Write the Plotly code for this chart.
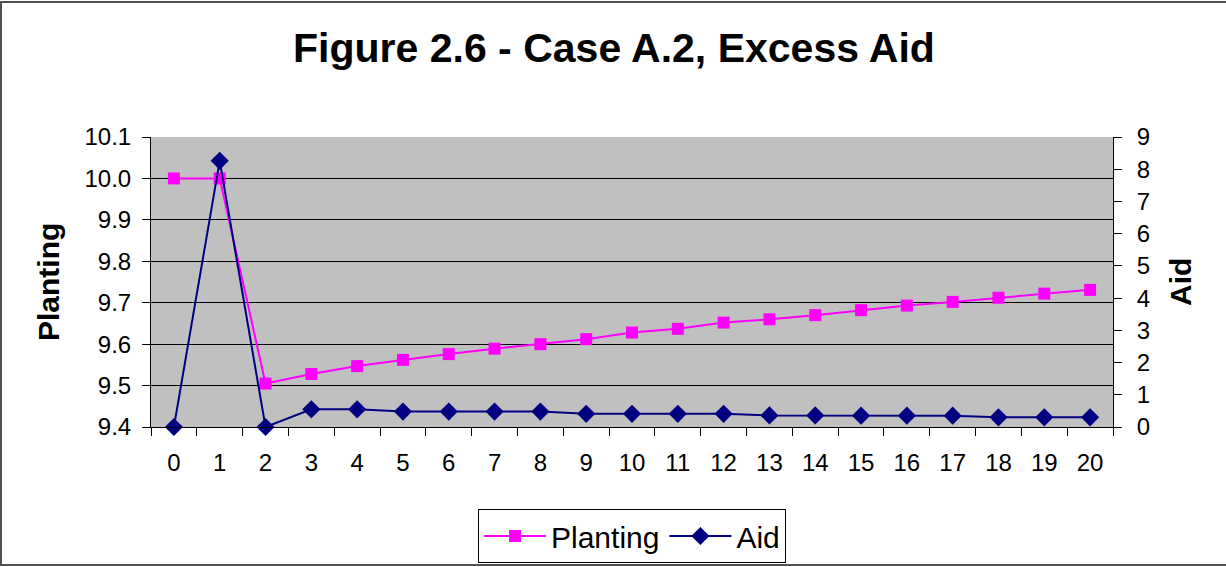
import plotly.graph_objects as go

periods = [str(i) for i in range(21)]
planting = [10.0, 10.0, 9.505, 9.528, 9.547, 9.562, 9.576, 9.589, 9.600, 9.612,
            9.628, 9.637, 9.652, 9.660, 9.670, 9.682, 9.693, 9.702, 9.712, 9.722, 9.731]
aid = [0.0, 8.26, 0.0, 0.55, 0.55, 0.48, 0.48, 0.48, 0.48, 0.41,
       0.41, 0.41, 0.41, 0.36, 0.36, 0.35, 0.35, 0.35, 0.30, 0.30, 0.30]

left_ticks = [9.4, 9.5, 9.6, 9.7, 9.8, 9.9, 10.0, 10.1]
right_ticks = list(range(0, 10))

FONT = "Liberation Sans, Arial, sans-serif"

fig = go.Figure()
fig.add_trace(go.Scatter(
    x=periods, y=planting, name="Planting", mode="lines+markers",
    line=dict(color="#FF00FF", width=2),
    marker=dict(symbol="square", size=12, color="#FF00FF"),
    cliponaxis=False, yaxis="y"))
fig.add_trace(go.Scatter(
    x=periods, y=aid, name="Aid", mode="lines+markers",
    line=dict(color="#000080", width=2),
    marker=dict(symbol="diamond", size=14, color="#000080"),
    cliponaxis=False, yaxis="y2"))

fig.update_layout(
    width=1226, height=567,
    margin=dict(l=151, r=113, t=137, b=140, autoexpand=False),
    paper_bgcolor="white", plot_bgcolor="#C0C0C0",
    font=dict(family=FONT, color="black", size=24),
    title=dict(text="<b>Figure 2.6 - Case A.2, Excess Aid</b>",
               x=(291 + 937) / 2 / 1226, xanchor="center",
               y=1 - 48 / 567, yanchor="middle",
               font=dict(size=41, family=FONT, color="black")),
    xaxis=dict(type="category", range=[-0.5, 20.5], tickson="boundaries",
               ticks="outside", ticklen=8, tickcolor="black",
               showline=True, linecolor="black", linewidth=1,
               showgrid=False, tickfont=dict(size=24), ticklabelstandoff=14,
               automargin=False),
    yaxis=dict(range=[9.4, 10.1], tickvals=left_ticks, tickformat=".1f",
               ticks="outside", ticklen=8, tickcolor="black",
               showline=True, linecolor="black", linewidth=1,
               showgrid=True, gridcolor="black", gridwidth=1,
               zeroline=False, tickfont=dict(size=24), ticklabelstandoff=6,
               automargin=False),
    yaxis2=dict(range=[0, 9], tickvals=right_ticks, overlaying="y", side="right",
                ticks="outside", ticklen=8, tickcolor="black",
                showline=True, linecolor="black", linewidth=1,
                showgrid=False, zeroline=False, tickfont=dict(size=24),
                ticklabelstandoff=10, automargin=False),
    legend=dict(orientation="h", x=0.5, xanchor="center",
                y=1 - 509 / 567, yref="container", yanchor="top",
                bordercolor="black", borderwidth=1, bgcolor="white",
                font=dict(size=30, family=FONT), itemwidth=62,
                tracegroupgap=0),
    showlegend=True,
    annotations=[
        dict(text="<b>Planting</b>", textangle=-90, xref="paper", yref="paper",
             x=(48 - 151) / 962, y=(427 - 282) / 290, xanchor="center", yanchor="middle",
             showarrow=False, font=dict(size=30, family=FONT)),
        dict(text="<b>Aid</b>", textangle=-90, xref="paper", yref="paper",
             x=(1180 - 151) / 962, y=(427 - 282) / 290, xanchor="center", yanchor="middle",
             showarrow=False, font=dict(size=30, family=FONT)),
    ],
    shapes=[dict(type="rect", xref="paper", yref="paper",
                 x0=(1 - 151) / 962, x1=(1240 - 151) / 962,
                 y0=(427 - 565) / 290, y1=(427 - 2) / 290,
                 line=dict(color="#505050", width=2), layer="below")],
)

fig.write_html("out.html", config={"displayModeBar": False},
               post_script="document.body.style.margin='0';")
